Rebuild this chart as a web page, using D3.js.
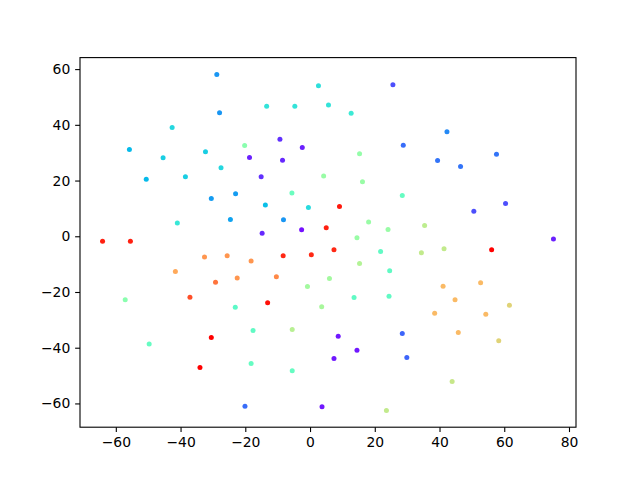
<!DOCTYPE html>
<html>
<head>
<meta charset="utf-8">
<script src="https://cdn.jsdelivr.net/npm/d3@7"></script>
<style>
  body { margin: 0; background: #fff; }
  svg { display: block; }
  text { font-family: "DejaVu Sans", sans-serif; }
</style>
</head>
<body>
<div id="chart"></div>
<script>
// point positions
const xs = [-28.8, -27.95, -42.6, -55.8, -45.4, -32.3, -20.2, -27.5, -38.5, -50.6,
    -23.0, -30.5, -24.6, -41.0, -64.1, -55.5, 2.6, 25.6, -13.4, -4.7,
    5.7, 12.7, -9.3, -2.4, 28.8, 15.3, -18.7, -8.5, -15.1, 4.2,
    16.2, -5.6, 28.5, -13.8, -0.5, 9.1, -8.2, -14.8, -2.6, 5.0,
    18.1, 24.1, 14.5, 42.3, 39.4, 46.5, 57.6, 60.4, 50.6, 35.4,
    75.2, -32.6, -25.6, -41.6, -29.2, -22.5, -57.1, -37.1, -23.1, -30.5,
    -49.7, -34.0, -20.1, -18.2, -8.3, 0.4, 7.4, 21.8, 15.3, 24.6,
    -10.4, -0.8, 6.0, -13.1, 3.6, 13.6, 24.4, -17.6, -5.5, 8.7,
    14.5, 7.4, 28.5, 29.9, -18.2, -5.5, 3.7, 23.6, 34.4, 41.4,
    56.1, 41.1, 52.7, 44.8, 61.6, 38.5, 54.3, 45.8, 58.3, 43.9];
const ys = [58.1, 44.3, 39.0, 31.1, 28.2, 30.3, 32.6, 24.6, 21.4, 20.5,
    15.3, 13.6, 6.0, 4.8, -1.8, -1.8, 54.0, 54.4, 46.7, 46.7,
    47.1, 44.2, 34.8, 31.9, 32.7, 29.6, 28.3, 27.3, 21.4, 21.6,
    19.6, 15.5, 14.6, 11.2, 10.3, 10.7, 5.9, 1.1, 2.3, 3.1,
    5.1, 2.4, -0.5, 37.5, 27.2, 25.0, 29.4, 11.8, 9.0, 3.9,
    -1.0, -7.4, -7.0, -12.6, -16.5, -15.0, -22.8, -21.9, -25.5, -36.3,
    -38.7, -47.1, -61.0, -8.9, -7.0, -6.6, -4.8, -5.5, -9.8, -12.4,
    -14.5, -18.0, -15.2, -23.9, -25.3, -22.0, -21.5, -33.8, -33.5, -35.9,
    -40.9, -43.9, -34.9, -43.5, -45.7, -48.3, -61.2, -62.5, -5.9, -4.5,
    -4.8, -17.9, -16.7, -22.8, -24.8, -27.6, -28.0, -34.5, -37.5, -52.1];
// colour value of each point (0..1, rainbow colormap)
const cs = [0.2, 0.2, 0.32, 0.26, 0.3, 0.3, 0.52, 0.32, 0.3, 0.26,
    0.21, 0.21, 0.22, 0.36, 0.96, 0.96, 0.34, 0.1, 0.35, 0.35,
    0.35, 0.37, 0.06, 0.04, 0.14, 0.54, 0.04, 0.05, 0.06, 0.55,
    0.55, 0.46, 0.45, 0.27, 0.33, 0.97, 0.2, 0.05, 0.02, 0.96,
    0.55, 0.55, 0.55, 0.18, 0.15, 0.15, 0.15, 0.1, 0.1, 0.62,
    0.04, 0.8, 0.8, 0.77, 0.85, 0.8, 0.52, 0.9, 0.43, 1.0,
    0.45, 1.0, 0.14, 0.8, 0.95, 0.95, 0.95, 0.44, 0.6, 0.44,
    0.82, 0.57, 0.57, 0.98, 0.58, 0.44, 0.44, 0.44, 0.61, 0.03,
    0.03, 0.03, 0.13, 0.13, 0.45, 0.45, 0.03, 0.63, 0.63, 0.63,
    1.0, 0.74, 0.74, 0.74, 0.69, 0.74, 0.74, 0.74, 0.69, 0.64];
const xTicks = [-60, -40, -20, 0, 20, 40, 60, 80];
const yTicks = [-60, -40, -20, 0, 20, 40, 60];

const data = xs.map((x, i) => ({ x: x, y: ys[i], c: cs[i] }));

const width = 640;
const height = 480;
const margin = { top: 57.6, right: 64, bottom: 52.8, left: 80 };

// matplotlib style 5% padding around the data
function padded(values) {
    const [lo, hi] = d3.extent(values);
    const pad = (hi - lo) * 0.05;
    return [lo - pad, hi + pad];
}

const x = d3.scaleLinear()
    .domain(padded(xs))
    .range([margin.left, width - margin.right]);

const y = d3.scaleLinear()
    .domain(padded(ys))
    .range([height - margin.bottom, margin.top]);

// matplotlib "rainbow" colormap
const clip = v => Math.max(0, Math.min(1, v));
const rainbow = t => d3.rgb(
    255 * clip(Math.abs(2 * t - 0.5)),
    255 * clip(Math.sin(Math.PI * t)),
    255 * clip(Math.cos(Math.PI * t / 2))) + "";
const color = d3.scaleSequential(rainbow).domain([0, 1]);

const svg = d3.select("#chart").append("svg")
    .attr("width", width)
    .attr("height", height);

svg.append("g")
    .selectAll("circle")
    .data(data)
    .join("circle")
    .attr("cx", d => x(d.x))
    .attr("cy", d => y(d.y))
    .attr("r", 2.5)
    .attr("fill", d => color(d.c));

const tickLen = 4.86;
const xAxis = g => g
    .attr("transform", `translate(0,${height - margin.bottom})`)
    .call(d3.axisBottom(x).tickValues(xTicks).tickSizeInner(tickLen).tickSizeOuter(0).tickPadding(4.86))
    .call(g => g.select(".domain").remove());

const yAxis = g => g
    .attr("transform", `translate(${margin.left},0)`)
    .call(d3.axisLeft(y).tickValues(yTicks).tickSizeInner(tickLen).tickSizeOuter(0).tickPadding(4.86))
    .call(g => g.select(".domain").remove());

svg.append("g").call(xAxis);
svg.append("g").call(yAxis);

svg.selectAll(".tick line")
    .attr("stroke", "black")
    .attr("stroke-width", 1.1);
svg.selectAll(".tick text")
    .attr("fill", "black")
    .style("font-family", "'DejaVu Sans', sans-serif")
    .style("font-size", "13.9px");

// axes frame
svg.append("rect")
    .attr("x", margin.left)
    .attr("y", margin.top)
    .attr("width", width - margin.left - margin.right)
    .attr("height", height - margin.top - margin.bottom)
    .attr("fill", "none")
    .attr("stroke", "black")
    .attr("stroke-width", 1.1);
</script>
</body>
</html>
